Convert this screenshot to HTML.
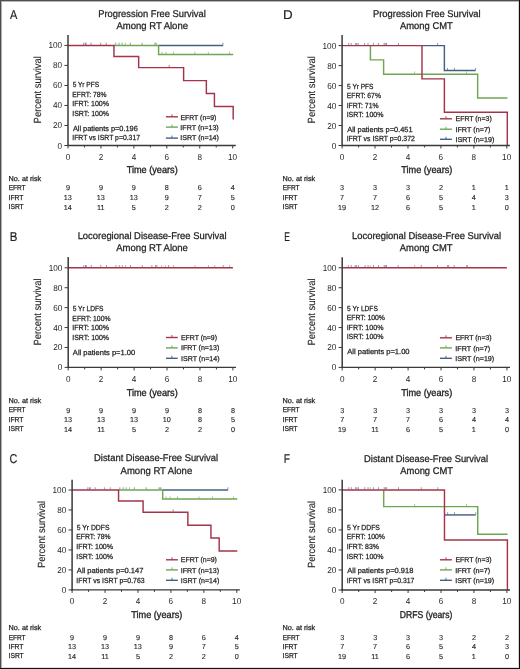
<!DOCTYPE html>
<html><head><meta charset="utf-8"><style>
html,body{margin:0;padding:0;background:#fff;}
body{width:520px;height:669px;overflow:hidden;}
svg{display:block;font-family:"Liberation Sans",sans-serif;will-change:transform;text-rendering:geometricPrecision;}
</style></head><body>
<svg width="520" height="669" viewBox="0 0 520 669">
<rect x="0" y="0" width="520" height="669" fill="#fff"/>
<text x="9.98" y="18.80" font-size="12.8" fill="#231f20" textLength="7.34" lengthAdjust="spacingAndGlyphs" stroke="#231f20" stroke-width="0.18">A</text>
<text x="98.23" y="16.90" font-size="9.8" fill="#231f20" textLength="107.60" lengthAdjust="spacingAndGlyphs" stroke="#231f20" stroke-width="0.28">Progression Free Survival</text>
<text x="116.38" y="29.40" font-size="9.8" fill="#231f20" textLength="71.64" lengthAdjust="spacingAndGlyphs" stroke="#231f20" stroke-width="0.28">Among RT Alone</text>
<path d="M158.58,45.40H223.15" fill="none" stroke="#465f86" stroke-width="1.45" stroke-linejoin="miter" stroke-linecap="butt"/>
<line x1="83.65" y1="44.90" x2="83.65" y2="42.70" stroke="#465f86" stroke-width="0.9" opacity="0.7"/>
<line x1="85.29" y1="44.90" x2="85.29" y2="42.70" stroke="#465f86" stroke-width="0.9" opacity="0.7"/>
<line x1="86.12" y1="44.90" x2="86.12" y2="42.70" stroke="#465f86" stroke-width="0.9" opacity="0.7"/>
<line x1="91.06" y1="44.90" x2="91.06" y2="42.70" stroke="#465f86" stroke-width="0.9" opacity="0.7"/>
<line x1="100.61" y1="44.90" x2="100.61" y2="42.70" stroke="#465f86" stroke-width="0.9" opacity="0.7"/>
<line x1="106.21" y1="44.90" x2="106.21" y2="42.70" stroke="#465f86" stroke-width="0.9" opacity="0.7"/>
<line x1="115.76" y1="44.90" x2="115.76" y2="42.70" stroke="#465f86" stroke-width="0.9" opacity="0.7"/>
<line x1="119.06" y1="44.90" x2="119.06" y2="42.70" stroke="#465f86" stroke-width="0.9" opacity="0.7"/>
<line x1="122.02" y1="44.90" x2="122.02" y2="42.70" stroke="#465f86" stroke-width="0.9" opacity="0.7"/>
<line x1="130.26" y1="44.90" x2="130.26" y2="42.70" stroke="#465f86" stroke-width="0.9" opacity="0.7"/>
<line x1="142.12" y1="44.90" x2="142.12" y2="42.70" stroke="#465f86" stroke-width="0.9" opacity="0.7"/>
<line x1="154.96" y1="44.90" x2="154.96" y2="42.70" stroke="#465f86" stroke-width="0.9" opacity="0.7"/>
<line x1="156.11" y1="44.90" x2="156.11" y2="42.70" stroke="#465f86" stroke-width="0.9" opacity="0.7"/>
<line x1="222.98" y1="44.90" x2="222.98" y2="42.70" stroke="#465f86" stroke-width="0.9" opacity="0.7"/>
<path d="M113.95,45.40H158.58V54.51H233.19" fill="none" stroke="#6ea652" stroke-width="1.45" stroke-linejoin="miter" stroke-linecap="butt"/>
<line x1="125.32" y1="44.90" x2="125.32" y2="42.70" stroke="#6ea652" stroke-width="0.9" opacity="0.7"/>
<line x1="161.88" y1="54.01" x2="161.88" y2="51.81" stroke="#6ea652" stroke-width="0.9" opacity="0.7"/>
<line x1="166.00" y1="54.01" x2="166.00" y2="51.81" stroke="#6ea652" stroke-width="0.9" opacity="0.7"/>
<line x1="173.41" y1="54.01" x2="173.41" y2="51.81" stroke="#6ea652" stroke-width="0.9" opacity="0.7"/>
<line x1="194.82" y1="54.01" x2="194.82" y2="51.81" stroke="#6ea652" stroke-width="0.9" opacity="0.7"/>
<line x1="208.32" y1="54.01" x2="208.32" y2="51.81" stroke="#6ea652" stroke-width="0.9" opacity="0.7"/>
<line x1="229.41" y1="54.01" x2="229.41" y2="51.81" stroke="#6ea652" stroke-width="0.9" opacity="0.7"/>
<path d="M68.00,45.40H113.95V56.51H138.66V67.62H183.62V80.64H206.35V93.55H214.42V106.56H233.19V119.47" fill="none" stroke="#a5344a" stroke-width="1.45" stroke-linejoin="miter" stroke-linecap="butt"/>
<line x1="169.13" y1="67.12" x2="169.13" y2="64.92" stroke="#a5344a" stroke-width="0.9" opacity="0.7"/>
<line x1="68.00" y1="35.00" x2="68.00" y2="146.10" stroke="#3a3a3a" stroke-width="1.5"/>
<line x1="67.30" y1="145.50" x2="235.80" y2="145.50" stroke="#3a3a3a" stroke-width="1.4"/>
<line x1="64.40" y1="145.50" x2="68.00" y2="145.50" stroke="#3a3a3a" stroke-width="1.0"/>
<text x="57.58" y="148.50" font-size="8.6" fill="#231f20" textLength="4.54" lengthAdjust="spacingAndGlyphs">0</text>
<line x1="64.40" y1="125.48" x2="68.00" y2="125.48" stroke="#3a3a3a" stroke-width="1.0"/>
<text x="53.03" y="128.48" font-size="8.6" fill="#231f20" textLength="9.09" lengthAdjust="spacingAndGlyphs">20</text>
<line x1="64.40" y1="105.46" x2="68.00" y2="105.46" stroke="#3a3a3a" stroke-width="1.0"/>
<text x="53.03" y="108.46" font-size="8.6" fill="#231f20" textLength="9.09" lengthAdjust="spacingAndGlyphs">40</text>
<line x1="64.40" y1="85.44" x2="68.00" y2="85.44" stroke="#3a3a3a" stroke-width="1.0"/>
<text x="53.03" y="88.44" font-size="8.6" fill="#231f20" textLength="9.09" lengthAdjust="spacingAndGlyphs">60</text>
<line x1="64.40" y1="65.42" x2="68.00" y2="65.42" stroke="#3a3a3a" stroke-width="1.0"/>
<text x="53.03" y="68.42" font-size="8.6" fill="#231f20" textLength="9.09" lengthAdjust="spacingAndGlyphs">80</text>
<line x1="64.40" y1="45.40" x2="68.00" y2="45.40" stroke="#3a3a3a" stroke-width="1.0"/>
<text x="48.49" y="48.40" font-size="8.6" fill="#231f20" textLength="13.63" lengthAdjust="spacingAndGlyphs">100</text>
<line x1="68.00" y1="145.50" x2="68.00" y2="148.50" stroke="#3a3a3a" stroke-width="1.0"/>
<text x="65.73" y="159.50" font-size="8.6" fill="#231f20" textLength="4.54" lengthAdjust="spacingAndGlyphs">0</text>
<line x1="84.47" y1="145.50" x2="84.47" y2="147.50" stroke="#3a3a3a" stroke-width="1.0"/>
<line x1="100.94" y1="145.50" x2="100.94" y2="148.50" stroke="#3a3a3a" stroke-width="1.0"/>
<text x="98.67" y="159.50" font-size="8.6" fill="#231f20" textLength="4.54" lengthAdjust="spacingAndGlyphs">2</text>
<line x1="117.41" y1="145.50" x2="117.41" y2="147.50" stroke="#3a3a3a" stroke-width="1.0"/>
<line x1="133.88" y1="145.50" x2="133.88" y2="148.50" stroke="#3a3a3a" stroke-width="1.0"/>
<text x="131.63" y="159.50" font-size="8.6" fill="#231f20" textLength="4.54" lengthAdjust="spacingAndGlyphs">4</text>
<line x1="150.35" y1="145.50" x2="150.35" y2="147.50" stroke="#3a3a3a" stroke-width="1.0"/>
<line x1="166.82" y1="145.50" x2="166.82" y2="148.50" stroke="#3a3a3a" stroke-width="1.0"/>
<text x="164.52" y="159.50" font-size="8.6" fill="#231f20" textLength="4.54" lengthAdjust="spacingAndGlyphs">6</text>
<line x1="183.29" y1="145.50" x2="183.29" y2="147.50" stroke="#3a3a3a" stroke-width="1.0"/>
<line x1="199.76" y1="145.50" x2="199.76" y2="148.50" stroke="#3a3a3a" stroke-width="1.0"/>
<text x="197.49" y="159.50" font-size="8.6" fill="#231f20" textLength="4.54" lengthAdjust="spacingAndGlyphs">8</text>
<line x1="216.23" y1="145.50" x2="216.23" y2="147.50" stroke="#3a3a3a" stroke-width="1.0"/>
<line x1="232.70" y1="145.50" x2="232.70" y2="148.50" stroke="#3a3a3a" stroke-width="1.0"/>
<text x="228.01" y="159.50" font-size="8.6" fill="#231f20" textLength="9.09" lengthAdjust="spacingAndGlyphs">10</text>
<text transform="translate(40.90,89.70) rotate(-90)" x="-33.73" y="0" font-size="10.4" fill="#231f20" stroke="#231f20" stroke-width="0.12" textLength="67.31" lengthAdjust="spacingAndGlyphs">Percent survival</text>
<text x="126.65" y="173.10" font-size="9.9" fill="#231f20" textLength="51.07" lengthAdjust="spacingAndGlyphs" stroke="#231f20" stroke-width="0.35">Time (years)</text>
<text x="72.64" y="87.00" font-size="7.4" fill="#231f20" textLength="26.46" lengthAdjust="spacingAndGlyphs" stroke="#231f20" stroke-width="0.25">5 Yr PFS</text>
<text x="72.35" y="96.60" font-size="7.4" fill="#231f20" textLength="34.09" lengthAdjust="spacingAndGlyphs" stroke="#231f20" stroke-width="0.25">EFRT: 78%</text>
<text x="72.25" y="106.10" font-size="7.4" fill="#231f20" textLength="36.80" lengthAdjust="spacingAndGlyphs" stroke="#231f20" stroke-width="0.25">IFRT: 100%</text>
<text x="72.26" y="115.50" font-size="7.4" fill="#231f20" textLength="36.79" lengthAdjust="spacingAndGlyphs" stroke="#231f20" stroke-width="0.25">ISRT: 100%</text>
<text x="72.89" y="131.00" font-size="7.4" fill="#231f20" textLength="64.94" lengthAdjust="spacingAndGlyphs" stroke="#231f20" stroke-width="0.25">All patients p=0.196</text>
<text x="72.27" y="140.40" font-size="7.4" fill="#231f20" textLength="67.77" lengthAdjust="spacingAndGlyphs" stroke="#231f20" stroke-width="0.25">IFRT vs ISRT p=0.317</text>
<line x1="165.90" y1="116.80" x2="177.90" y2="116.80" stroke="#a5344a" stroke-width="1.4"/>
<line x1="171.90" y1="116.80" x2="171.90" y2="114.30" stroke="#a5344a" stroke-width="0.9"/>
<text x="180.43" y="119.60" font-size="7.1" fill="#231f20" textLength="35.99" lengthAdjust="spacingAndGlyphs" stroke="#231f20" stroke-width="0.25">EFRT (n=9)</text>
<line x1="165.90" y1="127.10" x2="177.90" y2="127.10" stroke="#6ea652" stroke-width="1.4"/>
<line x1="171.90" y1="127.10" x2="171.90" y2="124.60" stroke="#6ea652" stroke-width="0.9"/>
<text x="180.34" y="130.00" font-size="7.1" fill="#231f20" textLength="38.40" lengthAdjust="spacingAndGlyphs" stroke="#231f20" stroke-width="0.25">IFRT (n=13)</text>
<line x1="165.90" y1="138.10" x2="177.90" y2="138.10" stroke="#465f86" stroke-width="1.4"/>
<line x1="171.90" y1="138.10" x2="171.90" y2="135.60" stroke="#465f86" stroke-width="0.9"/>
<text x="180.35" y="140.40" font-size="7.1" fill="#231f20" textLength="38.59" lengthAdjust="spacingAndGlyphs" stroke="#231f20" stroke-width="0.25">ISRT (n=14)</text>
<text x="8.61" y="180.50" font-size="7.2" fill="#231f20" textLength="32.59" lengthAdjust="spacingAndGlyphs" stroke="#231f20" stroke-width="0.25">No. at risk</text>
<text x="8.67" y="190.10" font-size="7.2" fill="#231f20" textLength="16.88" lengthAdjust="spacingAndGlyphs" stroke="#231f20" stroke-width="0.25">EFRT</text>
<text x="65.98" y="190.40" font-size="7.25" fill="#231f20" textLength="4.03" lengthAdjust="spacingAndGlyphs" stroke="#231f20" stroke-width="0.12">9</text>
<text x="98.92" y="190.40" font-size="7.25" fill="#231f20" textLength="4.03" lengthAdjust="spacingAndGlyphs" stroke="#231f20" stroke-width="0.12">9</text>
<text x="131.86" y="190.40" font-size="7.25" fill="#231f20" textLength="4.03" lengthAdjust="spacingAndGlyphs" stroke="#231f20" stroke-width="0.12">9</text>
<text x="164.80" y="190.40" font-size="7.25" fill="#231f20" textLength="4.03" lengthAdjust="spacingAndGlyphs" stroke="#231f20" stroke-width="0.12">8</text>
<text x="197.72" y="190.40" font-size="7.25" fill="#231f20" textLength="4.03" lengthAdjust="spacingAndGlyphs" stroke="#231f20" stroke-width="0.12">6</text>
<text x="230.71" y="190.40" font-size="7.25" fill="#231f20" textLength="4.03" lengthAdjust="spacingAndGlyphs" stroke="#231f20" stroke-width="0.12">4</text>
<text x="8.58" y="199.50" font-size="7.2" fill="#231f20" textLength="14.87" lengthAdjust="spacingAndGlyphs" stroke="#231f20" stroke-width="0.25">IFRT</text>
<text x="63.85" y="199.80" font-size="7.25" fill="#231f20" textLength="8.06" lengthAdjust="spacingAndGlyphs" stroke="#231f20" stroke-width="0.12">13</text>
<text x="96.79" y="199.80" font-size="7.25" fill="#231f20" textLength="8.06" lengthAdjust="spacingAndGlyphs" stroke="#231f20" stroke-width="0.12">13</text>
<text x="129.73" y="199.80" font-size="7.25" fill="#231f20" textLength="8.06" lengthAdjust="spacingAndGlyphs" stroke="#231f20" stroke-width="0.12">13</text>
<text x="164.80" y="199.80" font-size="7.25" fill="#231f20" textLength="4.03" lengthAdjust="spacingAndGlyphs" stroke="#231f20" stroke-width="0.12">9</text>
<text x="197.74" y="199.80" font-size="7.25" fill="#231f20" textLength="4.03" lengthAdjust="spacingAndGlyphs" stroke="#231f20" stroke-width="0.12">7</text>
<text x="230.69" y="199.80" font-size="7.25" fill="#231f20" textLength="4.03" lengthAdjust="spacingAndGlyphs" stroke="#231f20" stroke-width="0.12">5</text>
<text x="8.59" y="209.20" font-size="7.2" fill="#231f20" textLength="15.07" lengthAdjust="spacingAndGlyphs" stroke="#231f20" stroke-width="0.25">ISRT</text>
<text x="63.80" y="209.50" font-size="7.25" fill="#231f20" textLength="8.06" lengthAdjust="spacingAndGlyphs" stroke="#231f20" stroke-width="0.12">14</text>
<text x="97.08" y="209.50" font-size="7.25" fill="#231f20" textLength="7.53" lengthAdjust="spacingAndGlyphs" stroke="#231f20" stroke-width="0.12">11</text>
<text x="131.87" y="209.50" font-size="7.25" fill="#231f20" textLength="4.03" lengthAdjust="spacingAndGlyphs" stroke="#231f20" stroke-width="0.12">5</text>
<text x="164.80" y="209.50" font-size="7.25" fill="#231f20" textLength="4.03" lengthAdjust="spacingAndGlyphs" stroke="#231f20" stroke-width="0.12">2</text>
<text x="197.74" y="209.50" font-size="7.25" fill="#231f20" textLength="4.03" lengthAdjust="spacingAndGlyphs" stroke="#231f20" stroke-width="0.12">2</text>
<text x="230.68" y="209.50" font-size="7.25" fill="#231f20" textLength="4.03" lengthAdjust="spacingAndGlyphs" stroke="#231f20" stroke-width="0.12">0</text>
<text x="9.66" y="241.30" font-size="12.8" fill="#231f20" textLength="7.65" lengthAdjust="spacingAndGlyphs" stroke="#231f20" stroke-width="0.18">B</text>
<text x="77.63" y="238.90" font-size="9.8" fill="#231f20" textLength="149.00" lengthAdjust="spacingAndGlyphs" stroke="#231f20" stroke-width="0.28">Locoregional Disease-Free Survival</text>
<text x="116.28" y="251.40" font-size="9.8" fill="#231f20" textLength="71.64" lengthAdjust="spacingAndGlyphs" stroke="#231f20" stroke-width="0.28">Among RT Alone</text>
<line x1="83.85" y1="267.30" x2="83.85" y2="265.10" stroke="#465f86" stroke-width="0.9" opacity="0.7"/>
<line x1="85.49" y1="267.30" x2="85.49" y2="265.10" stroke="#465f86" stroke-width="0.9" opacity="0.7"/>
<line x1="86.32" y1="267.30" x2="86.32" y2="265.10" stroke="#465f86" stroke-width="0.9" opacity="0.7"/>
<line x1="91.26" y1="267.30" x2="91.26" y2="265.10" stroke="#465f86" stroke-width="0.9" opacity="0.7"/>
<line x1="100.81" y1="267.30" x2="100.81" y2="265.10" stroke="#465f86" stroke-width="0.9" opacity="0.7"/>
<line x1="106.41" y1="267.30" x2="106.41" y2="265.10" stroke="#465f86" stroke-width="0.9" opacity="0.7"/>
<line x1="115.96" y1="267.30" x2="115.96" y2="265.10" stroke="#465f86" stroke-width="0.9" opacity="0.7"/>
<line x1="119.26" y1="267.30" x2="119.26" y2="265.10" stroke="#465f86" stroke-width="0.9" opacity="0.7"/>
<line x1="122.22" y1="267.30" x2="122.22" y2="265.10" stroke="#465f86" stroke-width="0.9" opacity="0.7"/>
<line x1="130.46" y1="267.30" x2="130.46" y2="265.10" stroke="#465f86" stroke-width="0.9" opacity="0.7"/>
<line x1="142.31" y1="267.30" x2="142.31" y2="265.10" stroke="#465f86" stroke-width="0.9" opacity="0.7"/>
<line x1="155.49" y1="267.30" x2="155.49" y2="265.10" stroke="#465f86" stroke-width="0.9" opacity="0.7"/>
<line x1="156.81" y1="267.30" x2="156.81" y2="265.10" stroke="#465f86" stroke-width="0.9" opacity="0.7"/>
<line x1="223.18" y1="267.30" x2="223.18" y2="265.10" stroke="#465f86" stroke-width="0.9" opacity="0.7"/>
<line x1="125.52" y1="267.30" x2="125.52" y2="265.10" stroke="#6ea652" stroke-width="0.9" opacity="0.7"/>
<line x1="161.75" y1="267.30" x2="161.75" y2="265.10" stroke="#6ea652" stroke-width="0.9" opacity="0.7"/>
<line x1="165.37" y1="267.30" x2="165.37" y2="265.10" stroke="#6ea652" stroke-width="0.9" opacity="0.7"/>
<line x1="173.61" y1="267.30" x2="173.61" y2="265.10" stroke="#6ea652" stroke-width="0.9" opacity="0.7"/>
<line x1="195.02" y1="267.30" x2="195.02" y2="265.10" stroke="#6ea652" stroke-width="0.9" opacity="0.7"/>
<line x1="208.52" y1="267.30" x2="208.52" y2="265.10" stroke="#6ea652" stroke-width="0.9" opacity="0.7"/>
<line x1="214.78" y1="267.30" x2="214.78" y2="265.10" stroke="#6ea652" stroke-width="0.9" opacity="0.7"/>
<line x1="229.61" y1="267.30" x2="229.61" y2="265.10" stroke="#6ea652" stroke-width="0.9" opacity="0.7"/>
<path d="M68.20,267.80H232.90" fill="none" stroke="#a5344a" stroke-width="1.45" stroke-linejoin="miter" stroke-linecap="butt"/>
<line x1="151.87" y1="267.30" x2="151.87" y2="265.10" stroke="#a5344a" stroke-width="0.9" opacity="0.7"/>
<line x1="168.67" y1="267.30" x2="168.67" y2="265.10" stroke="#a5344a" stroke-width="0.9" opacity="0.7"/>
<line x1="68.20" y1="257.10" x2="68.20" y2="368.00" stroke="#3a3a3a" stroke-width="1.5"/>
<line x1="67.50" y1="367.40" x2="236.00" y2="367.40" stroke="#3a3a3a" stroke-width="1.4"/>
<line x1="64.60" y1="367.40" x2="68.20" y2="367.40" stroke="#3a3a3a" stroke-width="1.0"/>
<text x="57.78" y="370.40" font-size="8.6" fill="#231f20" textLength="4.54" lengthAdjust="spacingAndGlyphs">0</text>
<line x1="64.60" y1="347.48" x2="68.20" y2="347.48" stroke="#3a3a3a" stroke-width="1.0"/>
<text x="53.23" y="350.48" font-size="8.6" fill="#231f20" textLength="9.09" lengthAdjust="spacingAndGlyphs">20</text>
<line x1="64.60" y1="327.56" x2="68.20" y2="327.56" stroke="#3a3a3a" stroke-width="1.0"/>
<text x="53.23" y="330.56" font-size="8.6" fill="#231f20" textLength="9.09" lengthAdjust="spacingAndGlyphs">40</text>
<line x1="64.60" y1="307.64" x2="68.20" y2="307.64" stroke="#3a3a3a" stroke-width="1.0"/>
<text x="53.23" y="310.64" font-size="8.6" fill="#231f20" textLength="9.09" lengthAdjust="spacingAndGlyphs">60</text>
<line x1="64.60" y1="287.72" x2="68.20" y2="287.72" stroke="#3a3a3a" stroke-width="1.0"/>
<text x="53.23" y="290.72" font-size="8.6" fill="#231f20" textLength="9.09" lengthAdjust="spacingAndGlyphs">80</text>
<line x1="64.60" y1="267.80" x2="68.20" y2="267.80" stroke="#3a3a3a" stroke-width="1.0"/>
<text x="48.69" y="270.80" font-size="8.6" fill="#231f20" textLength="13.63" lengthAdjust="spacingAndGlyphs">100</text>
<line x1="68.20" y1="367.40" x2="68.20" y2="370.40" stroke="#3a3a3a" stroke-width="1.0"/>
<text x="65.93" y="381.80" font-size="8.6" fill="#231f20" textLength="4.54" lengthAdjust="spacingAndGlyphs">0</text>
<line x1="84.67" y1="367.40" x2="84.67" y2="369.40" stroke="#3a3a3a" stroke-width="1.0"/>
<line x1="101.14" y1="367.40" x2="101.14" y2="370.40" stroke="#3a3a3a" stroke-width="1.0"/>
<text x="98.87" y="381.80" font-size="8.6" fill="#231f20" textLength="4.54" lengthAdjust="spacingAndGlyphs">2</text>
<line x1="117.61" y1="367.40" x2="117.61" y2="369.40" stroke="#3a3a3a" stroke-width="1.0"/>
<line x1="134.08" y1="367.40" x2="134.08" y2="370.40" stroke="#3a3a3a" stroke-width="1.0"/>
<text x="131.83" y="381.80" font-size="8.6" fill="#231f20" textLength="4.54" lengthAdjust="spacingAndGlyphs">4</text>
<line x1="150.55" y1="367.40" x2="150.55" y2="369.40" stroke="#3a3a3a" stroke-width="1.0"/>
<line x1="167.02" y1="367.40" x2="167.02" y2="370.40" stroke="#3a3a3a" stroke-width="1.0"/>
<text x="164.72" y="381.80" font-size="8.6" fill="#231f20" textLength="4.54" lengthAdjust="spacingAndGlyphs">6</text>
<line x1="183.49" y1="367.40" x2="183.49" y2="369.40" stroke="#3a3a3a" stroke-width="1.0"/>
<line x1="199.96" y1="367.40" x2="199.96" y2="370.40" stroke="#3a3a3a" stroke-width="1.0"/>
<text x="197.69" y="381.80" font-size="8.6" fill="#231f20" textLength="4.54" lengthAdjust="spacingAndGlyphs">8</text>
<line x1="216.43" y1="367.40" x2="216.43" y2="369.40" stroke="#3a3a3a" stroke-width="1.0"/>
<line x1="232.90" y1="367.40" x2="232.90" y2="370.40" stroke="#3a3a3a" stroke-width="1.0"/>
<text x="228.21" y="381.80" font-size="8.6" fill="#231f20" textLength="9.09" lengthAdjust="spacingAndGlyphs">10</text>
<text transform="translate(41.10,311.90) rotate(-90)" x="-33.73" y="0" font-size="10.4" fill="#231f20" stroke="#231f20" stroke-width="0.12" textLength="67.31" lengthAdjust="spacingAndGlyphs">Percent survival</text>
<text x="126.65" y="395.60" font-size="9.9" fill="#231f20" textLength="51.07" lengthAdjust="spacingAndGlyphs" stroke="#231f20" stroke-width="0.35">Time (years)</text>
<text x="72.64" y="311.10" font-size="7.4" fill="#231f20" textLength="30.77" lengthAdjust="spacingAndGlyphs" stroke="#231f20" stroke-width="0.25">5 Yr LDFS</text>
<text x="72.34" y="320.80" font-size="7.4" fill="#231f20" textLength="38.20" lengthAdjust="spacingAndGlyphs" stroke="#231f20" stroke-width="0.25">EFRT: 100%</text>
<text x="72.25" y="330.30" font-size="7.4" fill="#231f20" textLength="36.80" lengthAdjust="spacingAndGlyphs" stroke="#231f20" stroke-width="0.25">IFRT: 100%</text>
<text x="72.26" y="339.70" font-size="7.4" fill="#231f20" textLength="36.79" lengthAdjust="spacingAndGlyphs" stroke="#231f20" stroke-width="0.25">ISRT: 100%</text>
<text x="72.88" y="355.10" font-size="7.4" fill="#231f20" textLength="62.31" lengthAdjust="spacingAndGlyphs" stroke="#231f20" stroke-width="0.25">All patients p=1.00</text>
<line x1="166.00" y1="337.50" x2="177.70" y2="337.50" stroke="#a5344a" stroke-width="1.4"/>
<line x1="171.85" y1="337.50" x2="171.85" y2="335.00" stroke="#a5344a" stroke-width="0.9"/>
<text x="181.03" y="339.90" font-size="7.1" fill="#231f20" textLength="35.99" lengthAdjust="spacingAndGlyphs" stroke="#231f20" stroke-width="0.25">EFRT (n=9)</text>
<line x1="166.00" y1="347.90" x2="177.70" y2="347.90" stroke="#6ea652" stroke-width="1.4"/>
<line x1="171.85" y1="347.90" x2="171.85" y2="345.40" stroke="#6ea652" stroke-width="0.9"/>
<text x="180.94" y="350.40" font-size="7.1" fill="#231f20" textLength="38.40" lengthAdjust="spacingAndGlyphs" stroke="#231f20" stroke-width="0.25">IFRT (n=13)</text>
<line x1="166.00" y1="358.30" x2="177.70" y2="358.30" stroke="#465f86" stroke-width="1.4"/>
<line x1="171.85" y1="358.30" x2="171.85" y2="355.80" stroke="#465f86" stroke-width="0.9"/>
<text x="180.95" y="360.80" font-size="7.1" fill="#231f20" textLength="38.59" lengthAdjust="spacingAndGlyphs" stroke="#231f20" stroke-width="0.25">ISRT (n=14)</text>
<text x="8.61" y="402.80" font-size="7.2" fill="#231f20" textLength="32.59" lengthAdjust="spacingAndGlyphs" stroke="#231f20" stroke-width="0.25">No. at risk</text>
<text x="8.67" y="412.40" font-size="7.2" fill="#231f20" textLength="16.88" lengthAdjust="spacingAndGlyphs" stroke="#231f20" stroke-width="0.25">EFRT</text>
<text x="66.18" y="412.70" font-size="7.25" fill="#231f20" textLength="4.03" lengthAdjust="spacingAndGlyphs" stroke="#231f20" stroke-width="0.12">9</text>
<text x="99.12" y="412.70" font-size="7.25" fill="#231f20" textLength="4.03" lengthAdjust="spacingAndGlyphs" stroke="#231f20" stroke-width="0.12">9</text>
<text x="132.06" y="412.70" font-size="7.25" fill="#231f20" textLength="4.03" lengthAdjust="spacingAndGlyphs" stroke="#231f20" stroke-width="0.12">9</text>
<text x="165.00" y="412.70" font-size="7.25" fill="#231f20" textLength="4.03" lengthAdjust="spacingAndGlyphs" stroke="#231f20" stroke-width="0.12">9</text>
<text x="197.94" y="412.70" font-size="7.25" fill="#231f20" textLength="4.03" lengthAdjust="spacingAndGlyphs" stroke="#231f20" stroke-width="0.12">8</text>
<text x="230.88" y="412.70" font-size="7.25" fill="#231f20" textLength="4.03" lengthAdjust="spacingAndGlyphs" stroke="#231f20" stroke-width="0.12">8</text>
<text x="8.58" y="421.80" font-size="7.2" fill="#231f20" textLength="14.87" lengthAdjust="spacingAndGlyphs" stroke="#231f20" stroke-width="0.25">IFRT</text>
<text x="64.05" y="422.10" font-size="7.25" fill="#231f20" textLength="8.06" lengthAdjust="spacingAndGlyphs" stroke="#231f20" stroke-width="0.12">13</text>
<text x="96.99" y="422.10" font-size="7.25" fill="#231f20" textLength="8.06" lengthAdjust="spacingAndGlyphs" stroke="#231f20" stroke-width="0.12">13</text>
<text x="129.93" y="422.10" font-size="7.25" fill="#231f20" textLength="8.06" lengthAdjust="spacingAndGlyphs" stroke="#231f20" stroke-width="0.12">13</text>
<text x="162.85" y="422.10" font-size="7.25" fill="#231f20" textLength="8.06" lengthAdjust="spacingAndGlyphs" stroke="#231f20" stroke-width="0.12">10</text>
<text x="197.94" y="422.10" font-size="7.25" fill="#231f20" textLength="4.03" lengthAdjust="spacingAndGlyphs" stroke="#231f20" stroke-width="0.12">8</text>
<text x="230.89" y="422.10" font-size="7.25" fill="#231f20" textLength="4.03" lengthAdjust="spacingAndGlyphs" stroke="#231f20" stroke-width="0.12">5</text>
<text x="8.59" y="431.20" font-size="7.2" fill="#231f20" textLength="15.07" lengthAdjust="spacingAndGlyphs" stroke="#231f20" stroke-width="0.25">ISRT</text>
<text x="64.00" y="431.50" font-size="7.25" fill="#231f20" textLength="8.06" lengthAdjust="spacingAndGlyphs" stroke="#231f20" stroke-width="0.12">14</text>
<text x="97.28" y="431.50" font-size="7.25" fill="#231f20" textLength="7.53" lengthAdjust="spacingAndGlyphs" stroke="#231f20" stroke-width="0.12">11</text>
<text x="132.07" y="431.50" font-size="7.25" fill="#231f20" textLength="4.03" lengthAdjust="spacingAndGlyphs" stroke="#231f20" stroke-width="0.12">5</text>
<text x="165.00" y="431.50" font-size="7.25" fill="#231f20" textLength="4.03" lengthAdjust="spacingAndGlyphs" stroke="#231f20" stroke-width="0.12">2</text>
<text x="197.94" y="431.50" font-size="7.25" fill="#231f20" textLength="4.03" lengthAdjust="spacingAndGlyphs" stroke="#231f20" stroke-width="0.12">2</text>
<text x="230.88" y="431.50" font-size="7.25" fill="#231f20" textLength="4.03" lengthAdjust="spacingAndGlyphs" stroke="#231f20" stroke-width="0.12">0</text>
<text x="9.44" y="463.40" font-size="12.8" fill="#231f20" textLength="7.87" lengthAdjust="spacingAndGlyphs" stroke="#231f20" stroke-width="0.18">C</text>
<text x="94.08" y="461.40" font-size="9.8" fill="#231f20" textLength="123.90" lengthAdjust="spacingAndGlyphs" stroke="#231f20" stroke-width="0.28">Distant Disease-Free Survival</text>
<text x="120.58" y="473.70" font-size="9.8" fill="#231f20" textLength="71.64" lengthAdjust="spacingAndGlyphs" stroke="#231f20" stroke-width="0.28">Among RT Alone</text>
<path d="M162.69,490.00H228.07" fill="none" stroke="#465f86" stroke-width="1.45" stroke-linejoin="miter" stroke-linecap="butt"/>
<line x1="87.75" y1="489.50" x2="87.75" y2="487.30" stroke="#465f86" stroke-width="0.9" opacity="0.7"/>
<line x1="89.39" y1="489.50" x2="89.39" y2="487.30" stroke="#465f86" stroke-width="0.9" opacity="0.7"/>
<line x1="90.22" y1="489.50" x2="90.22" y2="487.30" stroke="#465f86" stroke-width="0.9" opacity="0.7"/>
<line x1="95.16" y1="489.50" x2="95.16" y2="487.30" stroke="#465f86" stroke-width="0.9" opacity="0.7"/>
<line x1="104.71" y1="489.50" x2="104.71" y2="487.30" stroke="#465f86" stroke-width="0.9" opacity="0.7"/>
<line x1="110.31" y1="489.50" x2="110.31" y2="487.30" stroke="#465f86" stroke-width="0.9" opacity="0.7"/>
<line x1="119.86" y1="489.50" x2="119.86" y2="487.30" stroke="#465f86" stroke-width="0.9" opacity="0.7"/>
<line x1="123.16" y1="489.50" x2="123.16" y2="487.30" stroke="#465f86" stroke-width="0.9" opacity="0.7"/>
<line x1="126.12" y1="489.50" x2="126.12" y2="487.30" stroke="#465f86" stroke-width="0.9" opacity="0.7"/>
<line x1="134.36" y1="489.50" x2="134.36" y2="487.30" stroke="#465f86" stroke-width="0.9" opacity="0.7"/>
<line x1="146.21" y1="489.50" x2="146.21" y2="487.30" stroke="#465f86" stroke-width="0.9" opacity="0.7"/>
<line x1="159.06" y1="489.50" x2="159.06" y2="487.30" stroke="#465f86" stroke-width="0.9" opacity="0.7"/>
<line x1="160.21" y1="489.50" x2="160.21" y2="487.30" stroke="#465f86" stroke-width="0.9" opacity="0.7"/>
<line x1="227.91" y1="489.50" x2="227.91" y2="487.30" stroke="#465f86" stroke-width="0.9" opacity="0.7"/>
<path d="M118.05,490.00H162.69V499.09H237.29" fill="none" stroke="#6ea652" stroke-width="1.45" stroke-linejoin="miter" stroke-linecap="butt"/>
<line x1="129.42" y1="489.50" x2="129.42" y2="487.30" stroke="#6ea652" stroke-width="0.9" opacity="0.7"/>
<line x1="161.04" y1="489.50" x2="161.04" y2="487.30" stroke="#6ea652" stroke-width="0.9" opacity="0.7"/>
<line x1="165.98" y1="498.59" x2="165.98" y2="496.39" stroke="#6ea652" stroke-width="0.9" opacity="0.7"/>
<line x1="170.10" y1="498.59" x2="170.10" y2="496.39" stroke="#6ea652" stroke-width="0.9" opacity="0.7"/>
<line x1="177.51" y1="498.59" x2="177.51" y2="496.39" stroke="#6ea652" stroke-width="0.9" opacity="0.7"/>
<line x1="198.92" y1="498.59" x2="198.92" y2="496.39" stroke="#6ea652" stroke-width="0.9" opacity="0.7"/>
<line x1="212.42" y1="498.59" x2="212.42" y2="496.39" stroke="#6ea652" stroke-width="0.9" opacity="0.7"/>
<line x1="233.51" y1="498.59" x2="233.51" y2="496.39" stroke="#6ea652" stroke-width="0.9" opacity="0.7"/>
<path d="M72.10,490.00H118.55V501.09H143.09V512.18H187.88V525.16H210.94V538.05H219.18V551.04H237.29" fill="none" stroke="#a5344a" stroke-width="1.45" stroke-linejoin="miter" stroke-linecap="butt"/>
<line x1="173.23" y1="511.68" x2="173.23" y2="509.48" stroke="#a5344a" stroke-width="0.9" opacity="0.7"/>
<line x1="72.10" y1="479.70" x2="72.10" y2="590.50" stroke="#3a3a3a" stroke-width="1.5"/>
<line x1="71.40" y1="589.90" x2="239.90" y2="589.90" stroke="#3a3a3a" stroke-width="1.4"/>
<line x1="68.50" y1="589.90" x2="72.10" y2="589.90" stroke="#3a3a3a" stroke-width="1.0"/>
<text x="61.68" y="592.90" font-size="8.6" fill="#231f20" textLength="4.54" lengthAdjust="spacingAndGlyphs">0</text>
<line x1="68.50" y1="569.92" x2="72.10" y2="569.92" stroke="#3a3a3a" stroke-width="1.0"/>
<text x="57.13" y="572.92" font-size="8.6" fill="#231f20" textLength="9.09" lengthAdjust="spacingAndGlyphs">20</text>
<line x1="68.50" y1="549.94" x2="72.10" y2="549.94" stroke="#3a3a3a" stroke-width="1.0"/>
<text x="57.13" y="552.94" font-size="8.6" fill="#231f20" textLength="9.09" lengthAdjust="spacingAndGlyphs">40</text>
<line x1="68.50" y1="529.96" x2="72.10" y2="529.96" stroke="#3a3a3a" stroke-width="1.0"/>
<text x="57.13" y="532.96" font-size="8.6" fill="#231f20" textLength="9.09" lengthAdjust="spacingAndGlyphs">60</text>
<line x1="68.50" y1="509.98" x2="72.10" y2="509.98" stroke="#3a3a3a" stroke-width="1.0"/>
<text x="57.13" y="512.98" font-size="8.6" fill="#231f20" textLength="9.09" lengthAdjust="spacingAndGlyphs">80</text>
<line x1="68.50" y1="490.00" x2="72.10" y2="490.00" stroke="#3a3a3a" stroke-width="1.0"/>
<text x="52.59" y="493.00" font-size="8.6" fill="#231f20" textLength="13.63" lengthAdjust="spacingAndGlyphs">100</text>
<line x1="72.10" y1="589.90" x2="72.10" y2="592.90" stroke="#3a3a3a" stroke-width="1.0"/>
<text x="69.83" y="603.80" font-size="8.6" fill="#231f20" textLength="4.54" lengthAdjust="spacingAndGlyphs">0</text>
<line x1="88.57" y1="589.90" x2="88.57" y2="591.90" stroke="#3a3a3a" stroke-width="1.0"/>
<line x1="105.04" y1="589.90" x2="105.04" y2="592.90" stroke="#3a3a3a" stroke-width="1.0"/>
<text x="102.77" y="603.80" font-size="8.6" fill="#231f20" textLength="4.54" lengthAdjust="spacingAndGlyphs">2</text>
<line x1="121.51" y1="589.90" x2="121.51" y2="591.90" stroke="#3a3a3a" stroke-width="1.0"/>
<line x1="137.98" y1="589.90" x2="137.98" y2="592.90" stroke="#3a3a3a" stroke-width="1.0"/>
<text x="135.73" y="603.80" font-size="8.6" fill="#231f20" textLength="4.54" lengthAdjust="spacingAndGlyphs">4</text>
<line x1="154.45" y1="589.90" x2="154.45" y2="591.90" stroke="#3a3a3a" stroke-width="1.0"/>
<line x1="170.92" y1="589.90" x2="170.92" y2="592.90" stroke="#3a3a3a" stroke-width="1.0"/>
<text x="168.62" y="603.80" font-size="8.6" fill="#231f20" textLength="4.54" lengthAdjust="spacingAndGlyphs">6</text>
<line x1="187.39" y1="589.90" x2="187.39" y2="591.90" stroke="#3a3a3a" stroke-width="1.0"/>
<line x1="203.86" y1="589.90" x2="203.86" y2="592.90" stroke="#3a3a3a" stroke-width="1.0"/>
<text x="201.59" y="603.80" font-size="8.6" fill="#231f20" textLength="4.54" lengthAdjust="spacingAndGlyphs">8</text>
<line x1="220.33" y1="589.90" x2="220.33" y2="591.90" stroke="#3a3a3a" stroke-width="1.0"/>
<line x1="236.80" y1="589.90" x2="236.80" y2="592.90" stroke="#3a3a3a" stroke-width="1.0"/>
<text x="232.11" y="603.80" font-size="8.6" fill="#231f20" textLength="9.09" lengthAdjust="spacingAndGlyphs">10</text>
<text transform="translate(45.00,534.40) rotate(-90)" x="-33.73" y="0" font-size="10.4" fill="#231f20" stroke="#231f20" stroke-width="0.12" textLength="67.31" lengthAdjust="spacingAndGlyphs">Percent survival</text>
<text x="131.25" y="617.70" font-size="9.9" fill="#231f20" textLength="51.07" lengthAdjust="spacingAndGlyphs" stroke="#231f20" stroke-width="0.35">Time (years)</text>
<text x="76.63" y="529.50" font-size="7.4" fill="#231f20" textLength="32.89" lengthAdjust="spacingAndGlyphs" stroke="#231f20" stroke-width="0.25">5 Yr DDFS</text>
<text x="76.35" y="538.80" font-size="7.4" fill="#231f20" textLength="34.09" lengthAdjust="spacingAndGlyphs" stroke="#231f20" stroke-width="0.25">EFRT: 78%</text>
<text x="76.25" y="548.80" font-size="7.4" fill="#231f20" textLength="36.80" lengthAdjust="spacingAndGlyphs" stroke="#231f20" stroke-width="0.25">IFRT: 100%</text>
<text x="76.26" y="558.50" font-size="7.4" fill="#231f20" textLength="36.79" lengthAdjust="spacingAndGlyphs" stroke="#231f20" stroke-width="0.25">ISRT: 100%</text>
<text x="76.88" y="573.10" font-size="7.4" fill="#231f20" textLength="66.59" lengthAdjust="spacingAndGlyphs" stroke="#231f20" stroke-width="0.25">All patients p=0.147</text>
<text x="76.27" y="583.10" font-size="7.4" fill="#231f20" textLength="68.34" lengthAdjust="spacingAndGlyphs" stroke="#231f20" stroke-width="0.25">IFRT vs ISRT p=0.763</text>
<line x1="166.00" y1="559.80" x2="177.90" y2="559.80" stroke="#a5344a" stroke-width="1.4"/>
<line x1="171.95" y1="559.80" x2="171.95" y2="557.30" stroke="#a5344a" stroke-width="0.9"/>
<text x="180.83" y="562.20" font-size="7.1" fill="#231f20" textLength="35.99" lengthAdjust="spacingAndGlyphs" stroke="#231f20" stroke-width="0.25">EFRT (n=9)</text>
<line x1="166.00" y1="569.90" x2="177.90" y2="569.90" stroke="#6ea652" stroke-width="1.4"/>
<line x1="171.95" y1="569.90" x2="171.95" y2="567.40" stroke="#6ea652" stroke-width="0.9"/>
<text x="180.74" y="572.50" font-size="7.1" fill="#231f20" textLength="38.40" lengthAdjust="spacingAndGlyphs" stroke="#231f20" stroke-width="0.25">IFRT (n=13)</text>
<line x1="166.00" y1="580.30" x2="177.90" y2="580.30" stroke="#465f86" stroke-width="1.4"/>
<line x1="171.95" y1="580.30" x2="171.95" y2="577.80" stroke="#465f86" stroke-width="0.9"/>
<text x="180.75" y="582.60" font-size="7.1" fill="#231f20" textLength="38.59" lengthAdjust="spacingAndGlyphs" stroke="#231f20" stroke-width="0.25">ISRT (n=14)</text>
<text x="8.61" y="629.90" font-size="7.2" fill="#231f20" textLength="32.59" lengthAdjust="spacingAndGlyphs" stroke="#231f20" stroke-width="0.25">No. at risk</text>
<text x="8.67" y="639.50" font-size="7.2" fill="#231f20" textLength="16.88" lengthAdjust="spacingAndGlyphs" stroke="#231f20" stroke-width="0.25">EFRT</text>
<text x="70.08" y="639.80" font-size="7.25" fill="#231f20" textLength="4.03" lengthAdjust="spacingAndGlyphs" stroke="#231f20" stroke-width="0.12">9</text>
<text x="103.02" y="639.80" font-size="7.25" fill="#231f20" textLength="4.03" lengthAdjust="spacingAndGlyphs" stroke="#231f20" stroke-width="0.12">9</text>
<text x="135.96" y="639.80" font-size="7.25" fill="#231f20" textLength="4.03" lengthAdjust="spacingAndGlyphs" stroke="#231f20" stroke-width="0.12">9</text>
<text x="168.90" y="639.80" font-size="7.25" fill="#231f20" textLength="4.03" lengthAdjust="spacingAndGlyphs" stroke="#231f20" stroke-width="0.12">8</text>
<text x="201.82" y="639.80" font-size="7.25" fill="#231f20" textLength="4.03" lengthAdjust="spacingAndGlyphs" stroke="#231f20" stroke-width="0.12">6</text>
<text x="234.81" y="639.80" font-size="7.25" fill="#231f20" textLength="4.03" lengthAdjust="spacingAndGlyphs" stroke="#231f20" stroke-width="0.12">4</text>
<text x="8.58" y="649.00" font-size="7.2" fill="#231f20" textLength="14.87" lengthAdjust="spacingAndGlyphs" stroke="#231f20" stroke-width="0.25">IFRT</text>
<text x="67.95" y="649.30" font-size="7.25" fill="#231f20" textLength="8.06" lengthAdjust="spacingAndGlyphs" stroke="#231f20" stroke-width="0.12">13</text>
<text x="100.89" y="649.30" font-size="7.25" fill="#231f20" textLength="8.06" lengthAdjust="spacingAndGlyphs" stroke="#231f20" stroke-width="0.12">13</text>
<text x="133.83" y="649.30" font-size="7.25" fill="#231f20" textLength="8.06" lengthAdjust="spacingAndGlyphs" stroke="#231f20" stroke-width="0.12">13</text>
<text x="168.90" y="649.30" font-size="7.25" fill="#231f20" textLength="4.03" lengthAdjust="spacingAndGlyphs" stroke="#231f20" stroke-width="0.12">9</text>
<text x="201.84" y="649.30" font-size="7.25" fill="#231f20" textLength="4.03" lengthAdjust="spacingAndGlyphs" stroke="#231f20" stroke-width="0.12">7</text>
<text x="234.79" y="649.30" font-size="7.25" fill="#231f20" textLength="4.03" lengthAdjust="spacingAndGlyphs" stroke="#231f20" stroke-width="0.12">5</text>
<text x="8.59" y="658.40" font-size="7.2" fill="#231f20" textLength="15.07" lengthAdjust="spacingAndGlyphs" stroke="#231f20" stroke-width="0.25">ISRT</text>
<text x="67.90" y="658.70" font-size="7.25" fill="#231f20" textLength="8.06" lengthAdjust="spacingAndGlyphs" stroke="#231f20" stroke-width="0.12">14</text>
<text x="101.18" y="658.70" font-size="7.25" fill="#231f20" textLength="7.53" lengthAdjust="spacingAndGlyphs" stroke="#231f20" stroke-width="0.12">11</text>
<text x="135.97" y="658.70" font-size="7.25" fill="#231f20" textLength="4.03" lengthAdjust="spacingAndGlyphs" stroke="#231f20" stroke-width="0.12">5</text>
<text x="168.90" y="658.70" font-size="7.25" fill="#231f20" textLength="4.03" lengthAdjust="spacingAndGlyphs" stroke="#231f20" stroke-width="0.12">2</text>
<text x="201.84" y="658.70" font-size="7.25" fill="#231f20" textLength="4.03" lengthAdjust="spacingAndGlyphs" stroke="#231f20" stroke-width="0.12">2</text>
<text x="234.78" y="658.70" font-size="7.25" fill="#231f20" textLength="4.03" lengthAdjust="spacingAndGlyphs" stroke="#231f20" stroke-width="0.12">0</text>
<text x="282.91" y="18.80" font-size="12.8" fill="#231f20" textLength="9.64" lengthAdjust="spacingAndGlyphs" stroke="#231f20" stroke-width="0.18">D</text>
<text x="373.03" y="16.90" font-size="9.8" fill="#231f20" textLength="107.60" lengthAdjust="spacingAndGlyphs" stroke="#231f20" stroke-width="0.28">Progression Free Survival</text>
<text x="400.03" y="29.40" font-size="9.8" fill="#231f20" textLength="52.73" lengthAdjust="spacingAndGlyphs" stroke="#231f20" stroke-width="0.28">Among CMT</text>
<path d="M421.98,45.60H444.38V70.58H475.67" fill="none" stroke="#465f86" stroke-width="1.45" stroke-linejoin="miter" stroke-linecap="butt"/>
<line x1="348.69" y1="45.10" x2="348.69" y2="42.90" stroke="#465f86" stroke-width="0.9" opacity="0.7"/>
<line x1="351.16" y1="45.10" x2="351.16" y2="42.90" stroke="#465f86" stroke-width="0.9" opacity="0.7"/>
<line x1="355.61" y1="45.10" x2="355.61" y2="42.90" stroke="#465f86" stroke-width="0.9" opacity="0.7"/>
<line x1="356.76" y1="45.10" x2="356.76" y2="42.90" stroke="#465f86" stroke-width="0.9" opacity="0.7"/>
<line x1="358.24" y1="45.10" x2="358.24" y2="42.90" stroke="#465f86" stroke-width="0.9" opacity="0.7"/>
<line x1="364.66" y1="45.10" x2="364.66" y2="42.90" stroke="#465f86" stroke-width="0.9" opacity="0.7"/>
<line x1="367.96" y1="45.10" x2="367.96" y2="42.90" stroke="#465f86" stroke-width="0.9" opacity="0.7"/>
<line x1="373.39" y1="45.10" x2="373.39" y2="42.90" stroke="#465f86" stroke-width="0.9" opacity="0.7"/>
<line x1="378.33" y1="45.10" x2="378.33" y2="42.90" stroke="#465f86" stroke-width="0.9" opacity="0.7"/>
<line x1="384.10" y1="45.10" x2="384.10" y2="42.90" stroke="#465f86" stroke-width="0.9" opacity="0.7"/>
<line x1="385.25" y1="45.10" x2="385.25" y2="42.90" stroke="#465f86" stroke-width="0.9" opacity="0.7"/>
<line x1="386.57" y1="45.10" x2="386.57" y2="42.90" stroke="#465f86" stroke-width="0.9" opacity="0.7"/>
<line x1="398.43" y1="45.10" x2="398.43" y2="42.90" stroke="#465f86" stroke-width="0.9" opacity="0.7"/>
<line x1="437.63" y1="45.10" x2="437.63" y2="42.90" stroke="#465f86" stroke-width="0.9" opacity="0.7"/>
<line x1="447.51" y1="70.08" x2="447.51" y2="67.88" stroke="#465f86" stroke-width="0.9" opacity="0.7"/>
<line x1="454.43" y1="70.08" x2="454.43" y2="67.88" stroke="#465f86" stroke-width="0.9" opacity="0.7"/>
<line x1="475.67" y1="70.08" x2="475.67" y2="67.88" stroke="#465f86" stroke-width="0.9" opacity="0.7"/>
<path d="M370.43,45.60V59.89H383.60V74.17H477.65V97.95H507.46" fill="none" stroke="#6ea652" stroke-width="1.45" stroke-linejoin="miter" stroke-linecap="butt"/>
<line x1="414.57" y1="73.67" x2="414.57" y2="71.47" stroke="#6ea652" stroke-width="0.9" opacity="0.7"/>
<line x1="466.45" y1="73.67" x2="466.45" y2="71.47" stroke="#6ea652" stroke-width="0.9" opacity="0.7"/>
<path d="M342.10,45.60H421.98V78.87H444.38V112.23H507.29V145.50" fill="none" stroke="#a5344a" stroke-width="1.45" stroke-linejoin="miter" stroke-linecap="butt"/>
<line x1="342.10" y1="35.00" x2="342.10" y2="146.10" stroke="#3a3a3a" stroke-width="1.5"/>
<line x1="341.40" y1="145.50" x2="509.90" y2="145.50" stroke="#3a3a3a" stroke-width="1.4"/>
<line x1="338.50" y1="145.50" x2="342.10" y2="145.50" stroke="#3a3a3a" stroke-width="1.0"/>
<text x="331.68" y="148.50" font-size="8.6" fill="#231f20" textLength="4.54" lengthAdjust="spacingAndGlyphs">0</text>
<line x1="338.50" y1="125.52" x2="342.10" y2="125.52" stroke="#3a3a3a" stroke-width="1.0"/>
<text x="327.13" y="128.52" font-size="8.6" fill="#231f20" textLength="9.09" lengthAdjust="spacingAndGlyphs">20</text>
<line x1="338.50" y1="105.54" x2="342.10" y2="105.54" stroke="#3a3a3a" stroke-width="1.0"/>
<text x="327.13" y="108.54" font-size="8.6" fill="#231f20" textLength="9.09" lengthAdjust="spacingAndGlyphs">40</text>
<line x1="338.50" y1="85.56" x2="342.10" y2="85.56" stroke="#3a3a3a" stroke-width="1.0"/>
<text x="327.13" y="88.56" font-size="8.6" fill="#231f20" textLength="9.09" lengthAdjust="spacingAndGlyphs">60</text>
<line x1="338.50" y1="65.58" x2="342.10" y2="65.58" stroke="#3a3a3a" stroke-width="1.0"/>
<text x="327.13" y="68.58" font-size="8.6" fill="#231f20" textLength="9.09" lengthAdjust="spacingAndGlyphs">80</text>
<line x1="338.50" y1="45.60" x2="342.10" y2="45.60" stroke="#3a3a3a" stroke-width="1.0"/>
<text x="322.59" y="48.60" font-size="8.6" fill="#231f20" textLength="13.63" lengthAdjust="spacingAndGlyphs">100</text>
<line x1="342.10" y1="145.50" x2="342.10" y2="148.50" stroke="#3a3a3a" stroke-width="1.0"/>
<text x="339.83" y="159.50" font-size="8.6" fill="#231f20" textLength="4.54" lengthAdjust="spacingAndGlyphs">0</text>
<line x1="358.57" y1="145.50" x2="358.57" y2="147.50" stroke="#3a3a3a" stroke-width="1.0"/>
<line x1="375.04" y1="145.50" x2="375.04" y2="148.50" stroke="#3a3a3a" stroke-width="1.0"/>
<text x="372.77" y="159.50" font-size="8.6" fill="#231f20" textLength="4.54" lengthAdjust="spacingAndGlyphs">2</text>
<line x1="391.51" y1="145.50" x2="391.51" y2="147.50" stroke="#3a3a3a" stroke-width="1.0"/>
<line x1="407.98" y1="145.50" x2="407.98" y2="148.50" stroke="#3a3a3a" stroke-width="1.0"/>
<text x="405.73" y="159.50" font-size="8.6" fill="#231f20" textLength="4.54" lengthAdjust="spacingAndGlyphs">4</text>
<line x1="424.45" y1="145.50" x2="424.45" y2="147.50" stroke="#3a3a3a" stroke-width="1.0"/>
<line x1="440.92" y1="145.50" x2="440.92" y2="148.50" stroke="#3a3a3a" stroke-width="1.0"/>
<text x="438.62" y="159.50" font-size="8.6" fill="#231f20" textLength="4.54" lengthAdjust="spacingAndGlyphs">6</text>
<line x1="457.39" y1="145.50" x2="457.39" y2="147.50" stroke="#3a3a3a" stroke-width="1.0"/>
<line x1="473.86" y1="145.50" x2="473.86" y2="148.50" stroke="#3a3a3a" stroke-width="1.0"/>
<text x="471.59" y="159.50" font-size="8.6" fill="#231f20" textLength="4.54" lengthAdjust="spacingAndGlyphs">8</text>
<line x1="490.33" y1="145.50" x2="490.33" y2="147.50" stroke="#3a3a3a" stroke-width="1.0"/>
<line x1="506.80" y1="145.50" x2="506.80" y2="148.50" stroke="#3a3a3a" stroke-width="1.0"/>
<text x="502.11" y="159.50" font-size="8.6" fill="#231f20" textLength="9.09" lengthAdjust="spacingAndGlyphs">10</text>
<text transform="translate(315.00,89.70) rotate(-90)" x="-33.73" y="0" font-size="10.4" fill="#231f20" stroke="#231f20" stroke-width="0.12" textLength="67.31" lengthAdjust="spacingAndGlyphs">Percent survival</text>
<text x="401.25" y="173.30" font-size="9.9" fill="#231f20" textLength="51.07" lengthAdjust="spacingAndGlyphs" stroke="#231f20" stroke-width="0.35">Time (years)</text>
<text x="347.04" y="88.60" font-size="7.4" fill="#231f20" textLength="26.46" lengthAdjust="spacingAndGlyphs" stroke="#231f20" stroke-width="0.25">5 Yr PFS</text>
<text x="346.74" y="98.30" font-size="7.4" fill="#231f20" textLength="34.19" lengthAdjust="spacingAndGlyphs" stroke="#231f20" stroke-width="0.25">EFRT: 67%</text>
<text x="346.67" y="107.50" font-size="7.4" fill="#231f20" textLength="31.97" lengthAdjust="spacingAndGlyphs" stroke="#231f20" stroke-width="0.25">IFRT: 71%</text>
<text x="346.66" y="117.20" font-size="7.4" fill="#231f20" textLength="36.79" lengthAdjust="spacingAndGlyphs" stroke="#231f20" stroke-width="0.25">ISRT: 100%</text>
<text x="347.29" y="132.20" font-size="7.4" fill="#231f20" textLength="65.28" lengthAdjust="spacingAndGlyphs" stroke="#231f20" stroke-width="0.25">All patients p=0.451</text>
<text x="346.67" y="141.40" font-size="7.4" fill="#231f20" textLength="68.18" lengthAdjust="spacingAndGlyphs" stroke="#231f20" stroke-width="0.25">IFRT vs ISRT p=0.372</text>
<line x1="440.00" y1="118.80" x2="451.90" y2="118.80" stroke="#a5344a" stroke-width="1.4"/>
<line x1="445.95" y1="118.80" x2="445.95" y2="116.30" stroke="#a5344a" stroke-width="0.9"/>
<text x="455.53" y="121.20" font-size="7.1" fill="#231f20" textLength="36.20" lengthAdjust="spacingAndGlyphs" stroke="#231f20" stroke-width="0.25">EFRT (n=3)</text>
<line x1="440.00" y1="129.20" x2="451.90" y2="129.20" stroke="#6ea652" stroke-width="1.4"/>
<line x1="445.95" y1="129.20" x2="445.95" y2="126.70" stroke="#6ea652" stroke-width="0.9"/>
<text x="455.43" y="131.80" font-size="7.1" fill="#231f20" textLength="34.91" lengthAdjust="spacingAndGlyphs" stroke="#231f20" stroke-width="0.25">IFRT (n=7)</text>
<line x1="440.00" y1="139.30" x2="451.90" y2="139.30" stroke="#465f86" stroke-width="1.4"/>
<line x1="445.95" y1="139.30" x2="445.95" y2="136.80" stroke="#465f86" stroke-width="0.9"/>
<text x="455.44" y="141.60" font-size="7.1" fill="#231f20" textLength="38.90" lengthAdjust="spacingAndGlyphs" stroke="#231f20" stroke-width="0.25">ISRT (n=19)</text>
<text x="282.61" y="180.50" font-size="7.2" fill="#231f20" textLength="32.59" lengthAdjust="spacingAndGlyphs" stroke="#231f20" stroke-width="0.25">No. at risk</text>
<text x="282.67" y="190.10" font-size="7.2" fill="#231f20" textLength="16.88" lengthAdjust="spacingAndGlyphs" stroke="#231f20" stroke-width="0.25">EFRT</text>
<text x="340.11" y="190.40" font-size="7.25" fill="#231f20" textLength="4.03" lengthAdjust="spacingAndGlyphs" stroke="#231f20" stroke-width="0.12">3</text>
<text x="373.05" y="190.40" font-size="7.25" fill="#231f20" textLength="4.03" lengthAdjust="spacingAndGlyphs" stroke="#231f20" stroke-width="0.12">3</text>
<text x="405.99" y="190.40" font-size="7.25" fill="#231f20" textLength="4.03" lengthAdjust="spacingAndGlyphs" stroke="#231f20" stroke-width="0.12">3</text>
<text x="438.90" y="190.40" font-size="7.25" fill="#231f20" textLength="4.03" lengthAdjust="spacingAndGlyphs" stroke="#231f20" stroke-width="0.12">2</text>
<text x="471.75" y="190.40" font-size="7.25" fill="#231f20" textLength="4.03" lengthAdjust="spacingAndGlyphs" stroke="#231f20" stroke-width="0.12">1</text>
<text x="504.69" y="190.40" font-size="7.25" fill="#231f20" textLength="4.03" lengthAdjust="spacingAndGlyphs" stroke="#231f20" stroke-width="0.12">1</text>
<text x="282.58" y="199.50" font-size="7.2" fill="#231f20" textLength="14.87" lengthAdjust="spacingAndGlyphs" stroke="#231f20" stroke-width="0.25">IFRT</text>
<text x="340.08" y="199.80" font-size="7.25" fill="#231f20" textLength="4.03" lengthAdjust="spacingAndGlyphs" stroke="#231f20" stroke-width="0.12">7</text>
<text x="373.02" y="199.80" font-size="7.25" fill="#231f20" textLength="4.03" lengthAdjust="spacingAndGlyphs" stroke="#231f20" stroke-width="0.12">7</text>
<text x="405.94" y="199.80" font-size="7.25" fill="#231f20" textLength="4.03" lengthAdjust="spacingAndGlyphs" stroke="#231f20" stroke-width="0.12">6</text>
<text x="438.91" y="199.80" font-size="7.25" fill="#231f20" textLength="4.03" lengthAdjust="spacingAndGlyphs" stroke="#231f20" stroke-width="0.12">5</text>
<text x="471.87" y="199.80" font-size="7.25" fill="#231f20" textLength="4.03" lengthAdjust="spacingAndGlyphs" stroke="#231f20" stroke-width="0.12">4</text>
<text x="504.81" y="199.80" font-size="7.25" fill="#231f20" textLength="4.03" lengthAdjust="spacingAndGlyphs" stroke="#231f20" stroke-width="0.12">3</text>
<text x="282.59" y="209.20" font-size="7.2" fill="#231f20" textLength="15.07" lengthAdjust="spacingAndGlyphs" stroke="#231f20" stroke-width="0.25">ISRT</text>
<text x="337.96" y="209.50" font-size="7.25" fill="#231f20" textLength="8.06" lengthAdjust="spacingAndGlyphs" stroke="#231f20" stroke-width="0.12">19</text>
<text x="370.91" y="209.50" font-size="7.25" fill="#231f20" textLength="8.06" lengthAdjust="spacingAndGlyphs" stroke="#231f20" stroke-width="0.12">12</text>
<text x="405.94" y="209.50" font-size="7.25" fill="#231f20" textLength="4.03" lengthAdjust="spacingAndGlyphs" stroke="#231f20" stroke-width="0.12">6</text>
<text x="438.91" y="209.50" font-size="7.25" fill="#231f20" textLength="4.03" lengthAdjust="spacingAndGlyphs" stroke="#231f20" stroke-width="0.12">5</text>
<text x="471.75" y="209.50" font-size="7.25" fill="#231f20" textLength="4.03" lengthAdjust="spacingAndGlyphs" stroke="#231f20" stroke-width="0.12">1</text>
<text x="504.78" y="209.50" font-size="7.25" fill="#231f20" textLength="4.03" lengthAdjust="spacingAndGlyphs" stroke="#231f20" stroke-width="0.12">0</text>
<text x="284.30" y="241.30" font-size="12.8" fill="#231f20" textLength="5.66" lengthAdjust="spacingAndGlyphs" stroke="#231f20" stroke-width="0.18">E</text>
<text x="352.03" y="238.90" font-size="9.8" fill="#231f20" textLength="149.00" lengthAdjust="spacingAndGlyphs" stroke="#231f20" stroke-width="0.28">Locoregional Disease-Free Survival</text>
<text x="399.83" y="251.30" font-size="9.8" fill="#231f20" textLength="52.73" lengthAdjust="spacingAndGlyphs" stroke="#231f20" stroke-width="0.28">Among CMT</text>
<line x1="348.29" y1="267.30" x2="348.29" y2="265.10" stroke="#465f86" stroke-width="0.9" opacity="0.7"/>
<line x1="351.26" y1="267.30" x2="351.26" y2="265.10" stroke="#465f86" stroke-width="0.9" opacity="0.7"/>
<line x1="355.21" y1="267.30" x2="355.21" y2="265.10" stroke="#465f86" stroke-width="0.9" opacity="0.7"/>
<line x1="356.36" y1="267.30" x2="356.36" y2="265.10" stroke="#465f86" stroke-width="0.9" opacity="0.7"/>
<line x1="358.34" y1="267.30" x2="358.34" y2="265.10" stroke="#465f86" stroke-width="0.9" opacity="0.7"/>
<line x1="365.09" y1="267.30" x2="365.09" y2="265.10" stroke="#465f86" stroke-width="0.9" opacity="0.7"/>
<line x1="368.06" y1="267.30" x2="368.06" y2="265.10" stroke="#465f86" stroke-width="0.9" opacity="0.7"/>
<line x1="373.49" y1="267.30" x2="373.49" y2="265.10" stroke="#465f86" stroke-width="0.9" opacity="0.7"/>
<line x1="378.60" y1="267.30" x2="378.60" y2="265.10" stroke="#465f86" stroke-width="0.9" opacity="0.7"/>
<line x1="384.20" y1="267.30" x2="384.20" y2="265.10" stroke="#465f86" stroke-width="0.9" opacity="0.7"/>
<line x1="385.35" y1="267.30" x2="385.35" y2="265.10" stroke="#465f86" stroke-width="0.9" opacity="0.7"/>
<line x1="386.50" y1="267.30" x2="386.50" y2="265.10" stroke="#465f86" stroke-width="0.9" opacity="0.7"/>
<line x1="398.20" y1="267.30" x2="398.20" y2="265.10" stroke="#465f86" stroke-width="0.9" opacity="0.7"/>
<line x1="437.56" y1="267.30" x2="437.56" y2="265.10" stroke="#465f86" stroke-width="0.9" opacity="0.7"/>
<line x1="447.61" y1="267.30" x2="447.61" y2="265.10" stroke="#465f86" stroke-width="0.9" opacity="0.7"/>
<line x1="448.76" y1="267.30" x2="448.76" y2="265.10" stroke="#465f86" stroke-width="0.9" opacity="0.7"/>
<line x1="454.20" y1="267.30" x2="454.20" y2="265.10" stroke="#465f86" stroke-width="0.9" opacity="0.7"/>
<line x1="467.37" y1="267.30" x2="467.37" y2="265.10" stroke="#465f86" stroke-width="0.9" opacity="0.7"/>
<line x1="370.20" y1="267.30" x2="370.20" y2="265.10" stroke="#6ea652" stroke-width="0.9" opacity="0.7"/>
<line x1="414.67" y1="267.30" x2="414.67" y2="265.10" stroke="#6ea652" stroke-width="0.9" opacity="0.7"/>
<line x1="466.55" y1="267.30" x2="466.55" y2="265.10" stroke="#6ea652" stroke-width="0.9" opacity="0.7"/>
<path d="M342.20,267.80H506.90" fill="none" stroke="#a5344a" stroke-width="1.45" stroke-linejoin="miter" stroke-linecap="butt"/>
<line x1="421.26" y1="267.30" x2="421.26" y2="265.10" stroke="#a5344a" stroke-width="0.9" opacity="0.7"/>
<line x1="342.20" y1="257.20" x2="342.20" y2="368.00" stroke="#3a3a3a" stroke-width="1.5"/>
<line x1="341.50" y1="367.40" x2="510.00" y2="367.40" stroke="#3a3a3a" stroke-width="1.4"/>
<line x1="338.60" y1="367.40" x2="342.20" y2="367.40" stroke="#3a3a3a" stroke-width="1.0"/>
<text x="331.78" y="370.40" font-size="8.6" fill="#231f20" textLength="4.54" lengthAdjust="spacingAndGlyphs">0</text>
<line x1="338.60" y1="347.48" x2="342.20" y2="347.48" stroke="#3a3a3a" stroke-width="1.0"/>
<text x="327.23" y="350.48" font-size="8.6" fill="#231f20" textLength="9.09" lengthAdjust="spacingAndGlyphs">20</text>
<line x1="338.60" y1="327.56" x2="342.20" y2="327.56" stroke="#3a3a3a" stroke-width="1.0"/>
<text x="327.23" y="330.56" font-size="8.6" fill="#231f20" textLength="9.09" lengthAdjust="spacingAndGlyphs">40</text>
<line x1="338.60" y1="307.64" x2="342.20" y2="307.64" stroke="#3a3a3a" stroke-width="1.0"/>
<text x="327.23" y="310.64" font-size="8.6" fill="#231f20" textLength="9.09" lengthAdjust="spacingAndGlyphs">60</text>
<line x1="338.60" y1="287.72" x2="342.20" y2="287.72" stroke="#3a3a3a" stroke-width="1.0"/>
<text x="327.23" y="290.72" font-size="8.6" fill="#231f20" textLength="9.09" lengthAdjust="spacingAndGlyphs">80</text>
<line x1="338.60" y1="267.80" x2="342.20" y2="267.80" stroke="#3a3a3a" stroke-width="1.0"/>
<text x="322.69" y="270.80" font-size="8.6" fill="#231f20" textLength="13.63" lengthAdjust="spacingAndGlyphs">100</text>
<line x1="342.20" y1="367.40" x2="342.20" y2="370.40" stroke="#3a3a3a" stroke-width="1.0"/>
<text x="339.93" y="381.80" font-size="8.6" fill="#231f20" textLength="4.54" lengthAdjust="spacingAndGlyphs">0</text>
<line x1="358.67" y1="367.40" x2="358.67" y2="369.40" stroke="#3a3a3a" stroke-width="1.0"/>
<line x1="375.14" y1="367.40" x2="375.14" y2="370.40" stroke="#3a3a3a" stroke-width="1.0"/>
<text x="372.87" y="381.80" font-size="8.6" fill="#231f20" textLength="4.54" lengthAdjust="spacingAndGlyphs">2</text>
<line x1="391.61" y1="367.40" x2="391.61" y2="369.40" stroke="#3a3a3a" stroke-width="1.0"/>
<line x1="408.08" y1="367.40" x2="408.08" y2="370.40" stroke="#3a3a3a" stroke-width="1.0"/>
<text x="405.83" y="381.80" font-size="8.6" fill="#231f20" textLength="4.54" lengthAdjust="spacingAndGlyphs">4</text>
<line x1="424.55" y1="367.40" x2="424.55" y2="369.40" stroke="#3a3a3a" stroke-width="1.0"/>
<line x1="441.02" y1="367.40" x2="441.02" y2="370.40" stroke="#3a3a3a" stroke-width="1.0"/>
<text x="438.72" y="381.80" font-size="8.6" fill="#231f20" textLength="4.54" lengthAdjust="spacingAndGlyphs">6</text>
<line x1="457.49" y1="367.40" x2="457.49" y2="369.40" stroke="#3a3a3a" stroke-width="1.0"/>
<line x1="473.96" y1="367.40" x2="473.96" y2="370.40" stroke="#3a3a3a" stroke-width="1.0"/>
<text x="471.69" y="381.80" font-size="8.6" fill="#231f20" textLength="4.54" lengthAdjust="spacingAndGlyphs">8</text>
<line x1="490.43" y1="367.40" x2="490.43" y2="369.40" stroke="#3a3a3a" stroke-width="1.0"/>
<line x1="506.90" y1="367.40" x2="506.90" y2="370.40" stroke="#3a3a3a" stroke-width="1.0"/>
<text x="502.21" y="381.80" font-size="8.6" fill="#231f20" textLength="9.09" lengthAdjust="spacingAndGlyphs">10</text>
<text transform="translate(315.10,311.90) rotate(-90)" x="-33.73" y="0" font-size="10.4" fill="#231f20" stroke="#231f20" stroke-width="0.12" textLength="67.31" lengthAdjust="spacingAndGlyphs">Percent survival</text>
<text x="401.15" y="395.60" font-size="9.9" fill="#231f20" textLength="51.07" lengthAdjust="spacingAndGlyphs" stroke="#231f20" stroke-width="0.35">Time (years)</text>
<text x="347.04" y="310.60" font-size="7.4" fill="#231f20" textLength="30.77" lengthAdjust="spacingAndGlyphs" stroke="#231f20" stroke-width="0.25">5 Yr LDFS</text>
<text x="346.74" y="320.30" font-size="7.4" fill="#231f20" textLength="38.20" lengthAdjust="spacingAndGlyphs" stroke="#231f20" stroke-width="0.25">EFRT: 100%</text>
<text x="346.65" y="329.50" font-size="7.4" fill="#231f20" textLength="36.80" lengthAdjust="spacingAndGlyphs" stroke="#231f20" stroke-width="0.25">IFRT: 100%</text>
<text x="346.66" y="339.20" font-size="7.4" fill="#231f20" textLength="36.79" lengthAdjust="spacingAndGlyphs" stroke="#231f20" stroke-width="0.25">ISRT: 100%</text>
<text x="347.28" y="354.20" font-size="7.4" fill="#231f20" textLength="62.31" lengthAdjust="spacingAndGlyphs" stroke="#231f20" stroke-width="0.25">All patients p=1.00</text>
<line x1="440.00" y1="337.80" x2="451.90" y2="337.80" stroke="#a5344a" stroke-width="1.4"/>
<line x1="445.95" y1="337.80" x2="445.95" y2="335.30" stroke="#a5344a" stroke-width="0.9"/>
<text x="455.43" y="340.20" font-size="7.1" fill="#231f20" textLength="36.20" lengthAdjust="spacingAndGlyphs" stroke="#231f20" stroke-width="0.25">EFRT (n=3)</text>
<line x1="440.00" y1="347.90" x2="451.90" y2="347.90" stroke="#6ea652" stroke-width="1.4"/>
<line x1="445.95" y1="347.90" x2="445.95" y2="345.40" stroke="#6ea652" stroke-width="0.9"/>
<text x="455.33" y="350.50" font-size="7.1" fill="#231f20" textLength="34.91" lengthAdjust="spacingAndGlyphs" stroke="#231f20" stroke-width="0.25">IFRT (n=7)</text>
<line x1="440.00" y1="358.30" x2="451.90" y2="358.30" stroke="#465f86" stroke-width="1.4"/>
<line x1="445.95" y1="358.30" x2="445.95" y2="355.80" stroke="#465f86" stroke-width="0.9"/>
<text x="455.34" y="360.60" font-size="7.1" fill="#231f20" textLength="38.90" lengthAdjust="spacingAndGlyphs" stroke="#231f20" stroke-width="0.25">ISRT (n=19)</text>
<text x="282.61" y="402.80" font-size="7.2" fill="#231f20" textLength="32.59" lengthAdjust="spacingAndGlyphs" stroke="#231f20" stroke-width="0.25">No. at risk</text>
<text x="282.67" y="412.40" font-size="7.2" fill="#231f20" textLength="16.88" lengthAdjust="spacingAndGlyphs" stroke="#231f20" stroke-width="0.25">EFRT</text>
<text x="340.21" y="412.70" font-size="7.25" fill="#231f20" textLength="4.03" lengthAdjust="spacingAndGlyphs" stroke="#231f20" stroke-width="0.12">3</text>
<text x="373.15" y="412.70" font-size="7.25" fill="#231f20" textLength="4.03" lengthAdjust="spacingAndGlyphs" stroke="#231f20" stroke-width="0.12">3</text>
<text x="406.09" y="412.70" font-size="7.25" fill="#231f20" textLength="4.03" lengthAdjust="spacingAndGlyphs" stroke="#231f20" stroke-width="0.12">3</text>
<text x="439.03" y="412.70" font-size="7.25" fill="#231f20" textLength="4.03" lengthAdjust="spacingAndGlyphs" stroke="#231f20" stroke-width="0.12">3</text>
<text x="471.97" y="412.70" font-size="7.25" fill="#231f20" textLength="4.03" lengthAdjust="spacingAndGlyphs" stroke="#231f20" stroke-width="0.12">3</text>
<text x="504.91" y="412.70" font-size="7.25" fill="#231f20" textLength="4.03" lengthAdjust="spacingAndGlyphs" stroke="#231f20" stroke-width="0.12">3</text>
<text x="282.58" y="421.80" font-size="7.2" fill="#231f20" textLength="14.87" lengthAdjust="spacingAndGlyphs" stroke="#231f20" stroke-width="0.25">IFRT</text>
<text x="340.18" y="422.10" font-size="7.25" fill="#231f20" textLength="4.03" lengthAdjust="spacingAndGlyphs" stroke="#231f20" stroke-width="0.12">7</text>
<text x="373.12" y="422.10" font-size="7.25" fill="#231f20" textLength="4.03" lengthAdjust="spacingAndGlyphs" stroke="#231f20" stroke-width="0.12">7</text>
<text x="406.06" y="422.10" font-size="7.25" fill="#231f20" textLength="4.03" lengthAdjust="spacingAndGlyphs" stroke="#231f20" stroke-width="0.12">7</text>
<text x="438.98" y="422.10" font-size="7.25" fill="#231f20" textLength="4.03" lengthAdjust="spacingAndGlyphs" stroke="#231f20" stroke-width="0.12">6</text>
<text x="471.97" y="422.10" font-size="7.25" fill="#231f20" textLength="4.03" lengthAdjust="spacingAndGlyphs" stroke="#231f20" stroke-width="0.12">4</text>
<text x="504.91" y="422.10" font-size="7.25" fill="#231f20" textLength="4.03" lengthAdjust="spacingAndGlyphs" stroke="#231f20" stroke-width="0.12">4</text>
<text x="282.59" y="431.20" font-size="7.2" fill="#231f20" textLength="15.07" lengthAdjust="spacingAndGlyphs" stroke="#231f20" stroke-width="0.25">ISRT</text>
<text x="338.06" y="431.50" font-size="7.25" fill="#231f20" textLength="8.06" lengthAdjust="spacingAndGlyphs" stroke="#231f20" stroke-width="0.12">19</text>
<text x="371.28" y="431.50" font-size="7.25" fill="#231f20" textLength="7.53" lengthAdjust="spacingAndGlyphs" stroke="#231f20" stroke-width="0.12">11</text>
<text x="406.04" y="431.50" font-size="7.25" fill="#231f20" textLength="4.03" lengthAdjust="spacingAndGlyphs" stroke="#231f20" stroke-width="0.12">6</text>
<text x="439.01" y="431.50" font-size="7.25" fill="#231f20" textLength="4.03" lengthAdjust="spacingAndGlyphs" stroke="#231f20" stroke-width="0.12">5</text>
<text x="471.85" y="431.50" font-size="7.25" fill="#231f20" textLength="4.03" lengthAdjust="spacingAndGlyphs" stroke="#231f20" stroke-width="0.12">1</text>
<text x="504.88" y="431.50" font-size="7.25" fill="#231f20" textLength="4.03" lengthAdjust="spacingAndGlyphs" stroke="#231f20" stroke-width="0.12">0</text>
<text x="283.86" y="463.10" font-size="12.8" fill="#231f20" textLength="6.25" lengthAdjust="spacingAndGlyphs" stroke="#231f20" stroke-width="0.18">F</text>
<text x="364.08" y="461.60" font-size="9.8" fill="#231f20" textLength="123.90" lengthAdjust="spacingAndGlyphs" stroke="#231f20" stroke-width="0.28">Distant Disease-Free Survival</text>
<text x="400.33" y="473.80" font-size="9.8" fill="#231f20" textLength="52.73" lengthAdjust="spacingAndGlyphs" stroke="#231f20" stroke-width="0.28">Among CMT</text>
<path d="M444.48,514.92H475.77" fill="none" stroke="#465f86" stroke-width="1.45" stroke-linejoin="miter" stroke-linecap="butt"/>
<line x1="348.79" y1="489.40" x2="348.79" y2="487.20" stroke="#465f86" stroke-width="0.9" opacity="0.7"/>
<line x1="351.26" y1="489.40" x2="351.26" y2="487.20" stroke="#465f86" stroke-width="0.9" opacity="0.7"/>
<line x1="355.71" y1="489.40" x2="355.71" y2="487.20" stroke="#465f86" stroke-width="0.9" opacity="0.7"/>
<line x1="356.86" y1="489.40" x2="356.86" y2="487.20" stroke="#465f86" stroke-width="0.9" opacity="0.7"/>
<line x1="358.34" y1="489.40" x2="358.34" y2="487.20" stroke="#465f86" stroke-width="0.9" opacity="0.7"/>
<line x1="364.76" y1="489.40" x2="364.76" y2="487.20" stroke="#465f86" stroke-width="0.9" opacity="0.7"/>
<line x1="368.06" y1="489.40" x2="368.06" y2="487.20" stroke="#465f86" stroke-width="0.9" opacity="0.7"/>
<line x1="373.49" y1="489.40" x2="373.49" y2="487.20" stroke="#465f86" stroke-width="0.9" opacity="0.7"/>
<line x1="378.43" y1="489.40" x2="378.43" y2="487.20" stroke="#465f86" stroke-width="0.9" opacity="0.7"/>
<line x1="384.20" y1="489.40" x2="384.20" y2="487.20" stroke="#465f86" stroke-width="0.9" opacity="0.7"/>
<line x1="385.35" y1="489.40" x2="385.35" y2="487.20" stroke="#465f86" stroke-width="0.9" opacity="0.7"/>
<line x1="386.67" y1="489.40" x2="386.67" y2="487.20" stroke="#465f86" stroke-width="0.9" opacity="0.7"/>
<line x1="398.53" y1="489.40" x2="398.53" y2="487.20" stroke="#465f86" stroke-width="0.9" opacity="0.7"/>
<line x1="437.73" y1="489.40" x2="437.73" y2="487.20" stroke="#465f86" stroke-width="0.9" opacity="0.7"/>
<line x1="447.61" y1="514.42" x2="447.61" y2="512.22" stroke="#465f86" stroke-width="0.9" opacity="0.7"/>
<line x1="454.53" y1="514.42" x2="454.53" y2="512.22" stroke="#465f86" stroke-width="0.9" opacity="0.7"/>
<line x1="475.77" y1="514.42" x2="475.77" y2="512.22" stroke="#465f86" stroke-width="0.9" opacity="0.7"/>
<path d="M383.70,489.90V506.62H477.75V534.34H507.56" fill="none" stroke="#6ea652" stroke-width="1.45" stroke-linejoin="miter" stroke-linecap="butt"/>
<line x1="370.20" y1="489.40" x2="370.20" y2="487.20" stroke="#6ea652" stroke-width="0.9" opacity="0.7"/>
<line x1="414.67" y1="506.12" x2="414.67" y2="503.92" stroke="#6ea652" stroke-width="0.9" opacity="0.7"/>
<line x1="466.55" y1="506.12" x2="466.55" y2="503.92" stroke="#6ea652" stroke-width="0.9" opacity="0.7"/>
<path d="M342.20,489.90H444.48V539.95H507.39V590.00" fill="none" stroke="#a5344a" stroke-width="1.45" stroke-linejoin="miter" stroke-linecap="butt"/>
<line x1="421.26" y1="489.40" x2="421.26" y2="487.20" stroke="#a5344a" stroke-width="0.9" opacity="0.7"/>
<line x1="342.20" y1="479.70" x2="342.20" y2="590.60" stroke="#3a3a3a" stroke-width="1.5"/>
<line x1="341.50" y1="590.00" x2="510.00" y2="590.00" stroke="#3a3a3a" stroke-width="1.4"/>
<line x1="338.60" y1="590.00" x2="342.20" y2="590.00" stroke="#3a3a3a" stroke-width="1.0"/>
<text x="331.78" y="593.00" font-size="8.6" fill="#231f20" textLength="4.54" lengthAdjust="spacingAndGlyphs">0</text>
<line x1="338.60" y1="569.98" x2="342.20" y2="569.98" stroke="#3a3a3a" stroke-width="1.0"/>
<text x="327.23" y="572.98" font-size="8.6" fill="#231f20" textLength="9.09" lengthAdjust="spacingAndGlyphs">20</text>
<line x1="338.60" y1="549.96" x2="342.20" y2="549.96" stroke="#3a3a3a" stroke-width="1.0"/>
<text x="327.23" y="552.96" font-size="8.6" fill="#231f20" textLength="9.09" lengthAdjust="spacingAndGlyphs">40</text>
<line x1="338.60" y1="529.94" x2="342.20" y2="529.94" stroke="#3a3a3a" stroke-width="1.0"/>
<text x="327.23" y="532.94" font-size="8.6" fill="#231f20" textLength="9.09" lengthAdjust="spacingAndGlyphs">60</text>
<line x1="338.60" y1="509.92" x2="342.20" y2="509.92" stroke="#3a3a3a" stroke-width="1.0"/>
<text x="327.23" y="512.92" font-size="8.6" fill="#231f20" textLength="9.09" lengthAdjust="spacingAndGlyphs">80</text>
<line x1="338.60" y1="489.90" x2="342.20" y2="489.90" stroke="#3a3a3a" stroke-width="1.0"/>
<text x="322.69" y="492.90" font-size="8.6" fill="#231f20" textLength="13.63" lengthAdjust="spacingAndGlyphs">100</text>
<line x1="342.20" y1="590.00" x2="342.20" y2="593.00" stroke="#3a3a3a" stroke-width="1.0"/>
<text x="339.93" y="603.80" font-size="8.6" fill="#231f20" textLength="4.54" lengthAdjust="spacingAndGlyphs">0</text>
<line x1="358.67" y1="590.00" x2="358.67" y2="592.00" stroke="#3a3a3a" stroke-width="1.0"/>
<line x1="375.14" y1="590.00" x2="375.14" y2="593.00" stroke="#3a3a3a" stroke-width="1.0"/>
<text x="372.87" y="603.80" font-size="8.6" fill="#231f20" textLength="4.54" lengthAdjust="spacingAndGlyphs">2</text>
<line x1="391.61" y1="590.00" x2="391.61" y2="592.00" stroke="#3a3a3a" stroke-width="1.0"/>
<line x1="408.08" y1="590.00" x2="408.08" y2="593.00" stroke="#3a3a3a" stroke-width="1.0"/>
<text x="405.83" y="603.80" font-size="8.6" fill="#231f20" textLength="4.54" lengthAdjust="spacingAndGlyphs">4</text>
<line x1="424.55" y1="590.00" x2="424.55" y2="592.00" stroke="#3a3a3a" stroke-width="1.0"/>
<line x1="441.02" y1="590.00" x2="441.02" y2="593.00" stroke="#3a3a3a" stroke-width="1.0"/>
<text x="438.72" y="603.80" font-size="8.6" fill="#231f20" textLength="4.54" lengthAdjust="spacingAndGlyphs">6</text>
<line x1="457.49" y1="590.00" x2="457.49" y2="592.00" stroke="#3a3a3a" stroke-width="1.0"/>
<line x1="473.96" y1="590.00" x2="473.96" y2="593.00" stroke="#3a3a3a" stroke-width="1.0"/>
<text x="471.69" y="603.80" font-size="8.6" fill="#231f20" textLength="4.54" lengthAdjust="spacingAndGlyphs">8</text>
<line x1="490.43" y1="590.00" x2="490.43" y2="592.00" stroke="#3a3a3a" stroke-width="1.0"/>
<line x1="506.90" y1="590.00" x2="506.90" y2="593.00" stroke="#3a3a3a" stroke-width="1.0"/>
<text x="502.21" y="603.80" font-size="8.6" fill="#231f20" textLength="9.09" lengthAdjust="spacingAndGlyphs">10</text>
<text transform="translate(315.10,534.40) rotate(-90)" x="-33.73" y="0" font-size="10.4" fill="#231f20" stroke="#231f20" stroke-width="0.12" textLength="67.31" lengthAdjust="spacingAndGlyphs">Percent survival</text>
<text x="399.85" y="617.70" font-size="9.9" fill="#231f20" textLength="52.54" lengthAdjust="spacingAndGlyphs" stroke="#231f20" stroke-width="0.35">DRFS (years)</text>
<text x="347.03" y="529.50" font-size="7.4" fill="#231f20" textLength="32.89" lengthAdjust="spacingAndGlyphs" stroke="#231f20" stroke-width="0.25">5 Yr DDFS</text>
<text x="346.74" y="539.20" font-size="7.4" fill="#231f20" textLength="38.20" lengthAdjust="spacingAndGlyphs" stroke="#231f20" stroke-width="0.25">EFRT: 100%</text>
<text x="346.66" y="548.90" font-size="7.4" fill="#231f20" textLength="32.28" lengthAdjust="spacingAndGlyphs" stroke="#231f20" stroke-width="0.25">IFRT: 83%</text>
<text x="346.66" y="558.50" font-size="7.4" fill="#231f20" textLength="36.79" lengthAdjust="spacingAndGlyphs" stroke="#231f20" stroke-width="0.25">ISRT: 100%</text>
<text x="347.29" y="573.10" font-size="7.4" fill="#231f20" textLength="66.04" lengthAdjust="spacingAndGlyphs" stroke="#231f20" stroke-width="0.25">All patients p=0.918</text>
<text x="346.67" y="583.10" font-size="7.4" fill="#231f20" textLength="67.77" lengthAdjust="spacingAndGlyphs" stroke="#231f20" stroke-width="0.25">IFRT vs ISRT p=0.317</text>
<line x1="440.00" y1="559.80" x2="451.90" y2="559.80" stroke="#a5344a" stroke-width="1.4"/>
<line x1="445.95" y1="559.80" x2="445.95" y2="557.30" stroke="#a5344a" stroke-width="0.9"/>
<text x="455.43" y="562.20" font-size="7.1" fill="#231f20" textLength="36.20" lengthAdjust="spacingAndGlyphs" stroke="#231f20" stroke-width="0.25">EFRT (n=3)</text>
<line x1="440.00" y1="569.90" x2="451.90" y2="569.90" stroke="#6ea652" stroke-width="1.4"/>
<line x1="445.95" y1="569.90" x2="445.95" y2="567.40" stroke="#6ea652" stroke-width="0.9"/>
<text x="455.33" y="572.50" font-size="7.1" fill="#231f20" textLength="34.91" lengthAdjust="spacingAndGlyphs" stroke="#231f20" stroke-width="0.25">IFRT (n=7)</text>
<line x1="440.00" y1="580.30" x2="451.90" y2="580.30" stroke="#465f86" stroke-width="1.4"/>
<line x1="445.95" y1="580.30" x2="445.95" y2="577.80" stroke="#465f86" stroke-width="0.9"/>
<text x="455.34" y="582.60" font-size="7.1" fill="#231f20" textLength="38.90" lengthAdjust="spacingAndGlyphs" stroke="#231f20" stroke-width="0.25">ISRT (n=19)</text>
<text x="282.61" y="629.90" font-size="7.2" fill="#231f20" textLength="32.59" lengthAdjust="spacingAndGlyphs" stroke="#231f20" stroke-width="0.25">No. at risk</text>
<text x="282.67" y="639.50" font-size="7.2" fill="#231f20" textLength="16.88" lengthAdjust="spacingAndGlyphs" stroke="#231f20" stroke-width="0.25">EFRT</text>
<text x="340.21" y="639.80" font-size="7.25" fill="#231f20" textLength="4.03" lengthAdjust="spacingAndGlyphs" stroke="#231f20" stroke-width="0.12">3</text>
<text x="373.15" y="639.80" font-size="7.25" fill="#231f20" textLength="4.03" lengthAdjust="spacingAndGlyphs" stroke="#231f20" stroke-width="0.12">3</text>
<text x="406.09" y="639.80" font-size="7.25" fill="#231f20" textLength="4.03" lengthAdjust="spacingAndGlyphs" stroke="#231f20" stroke-width="0.12">3</text>
<text x="439.03" y="639.80" font-size="7.25" fill="#231f20" textLength="4.03" lengthAdjust="spacingAndGlyphs" stroke="#231f20" stroke-width="0.12">3</text>
<text x="471.94" y="639.80" font-size="7.25" fill="#231f20" textLength="4.03" lengthAdjust="spacingAndGlyphs" stroke="#231f20" stroke-width="0.12">2</text>
<text x="504.88" y="639.80" font-size="7.25" fill="#231f20" textLength="4.03" lengthAdjust="spacingAndGlyphs" stroke="#231f20" stroke-width="0.12">2</text>
<text x="282.58" y="649.00" font-size="7.2" fill="#231f20" textLength="14.87" lengthAdjust="spacingAndGlyphs" stroke="#231f20" stroke-width="0.25">IFRT</text>
<text x="340.18" y="649.30" font-size="7.25" fill="#231f20" textLength="4.03" lengthAdjust="spacingAndGlyphs" stroke="#231f20" stroke-width="0.12">7</text>
<text x="373.12" y="649.30" font-size="7.25" fill="#231f20" textLength="4.03" lengthAdjust="spacingAndGlyphs" stroke="#231f20" stroke-width="0.12">7</text>
<text x="406.04" y="649.30" font-size="7.25" fill="#231f20" textLength="4.03" lengthAdjust="spacingAndGlyphs" stroke="#231f20" stroke-width="0.12">6</text>
<text x="439.01" y="649.30" font-size="7.25" fill="#231f20" textLength="4.03" lengthAdjust="spacingAndGlyphs" stroke="#231f20" stroke-width="0.12">5</text>
<text x="471.97" y="649.30" font-size="7.25" fill="#231f20" textLength="4.03" lengthAdjust="spacingAndGlyphs" stroke="#231f20" stroke-width="0.12">4</text>
<text x="504.91" y="649.30" font-size="7.25" fill="#231f20" textLength="4.03" lengthAdjust="spacingAndGlyphs" stroke="#231f20" stroke-width="0.12">3</text>
<text x="282.59" y="658.40" font-size="7.2" fill="#231f20" textLength="15.07" lengthAdjust="spacingAndGlyphs" stroke="#231f20" stroke-width="0.25">ISRT</text>
<text x="338.06" y="658.70" font-size="7.25" fill="#231f20" textLength="8.06" lengthAdjust="spacingAndGlyphs" stroke="#231f20" stroke-width="0.12">19</text>
<text x="371.28" y="658.70" font-size="7.25" fill="#231f20" textLength="7.53" lengthAdjust="spacingAndGlyphs" stroke="#231f20" stroke-width="0.12">11</text>
<text x="406.04" y="658.70" font-size="7.25" fill="#231f20" textLength="4.03" lengthAdjust="spacingAndGlyphs" stroke="#231f20" stroke-width="0.12">6</text>
<text x="439.01" y="658.70" font-size="7.25" fill="#231f20" textLength="4.03" lengthAdjust="spacingAndGlyphs" stroke="#231f20" stroke-width="0.12">5</text>
<text x="471.85" y="658.70" font-size="7.25" fill="#231f20" textLength="4.03" lengthAdjust="spacingAndGlyphs" stroke="#231f20" stroke-width="0.12">1</text>
<text x="504.88" y="658.70" font-size="7.25" fill="#231f20" textLength="4.03" lengthAdjust="spacingAndGlyphs" stroke="#231f20" stroke-width="0.12">0</text>
<rect x="0" y="0" width="520" height="1" fill="#4f4f4f"/>
<rect x="1" y="1" width="518" height="1" fill="#b4b4b4"/>
<rect x="0" y="0" width="1" height="669" fill="#4d4d4d"/>
<rect x="1" y="1" width="1" height="667" fill="#b0b0b0"/>
<rect x="519" y="0" width="1" height="669" fill="#0c0c0c"/>
<rect x="518" y="2" width="1" height="666" fill="#d8d8d8"/>
<rect x="0" y="668" width="520" height="1" fill="#111"/>
<rect x="2" y="667" width="516" height="1" fill="#e0e0e0"/>
</svg>
</body></html>
